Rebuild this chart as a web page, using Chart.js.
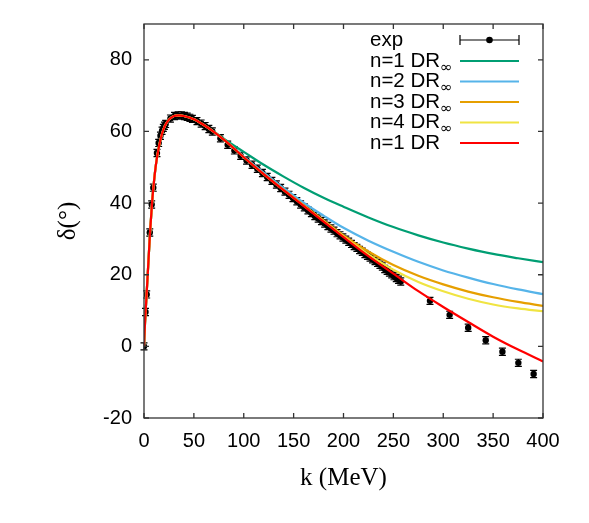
<!DOCTYPE html>
<html>
<head>
<meta charset="utf-8">
<script src="https://cdn.jsdelivr.net/npm/chart.js@4.4.1/dist/chart.umd.min.js"></script>
<style>
  html, body { margin: 0; padding: 0; background: #fff; }
</style>
</head>
<body>
<canvas id="phase" width="589" height="523"></canvas>
<script>
// experimental points (k in MeV, delta in degrees)
const expK = [0, 1.5, 2.7, 5.8, 7.7, 9.3, 13.0, 14.7, 16.5, 18.1, 19.4, 20.5, 21.7, 26.5, 30.6, 34.2, 37.5,
  40.5, 43.3, 46.0, 48.5, 53.1, 57.3, 61.3, 65.0, 68.5, 76.6, 83.9, 90.6, 96.9, 102.8, 108.3, 113.6, 118.7,
  123.5, 128.2, 132.7, 137.0, 141.3, 145.4, 149.3, 153.2, 157.0, 160.7, 164.3, 167.8, 171.2, 174.6, 177.9,
  181.1, 184.3, 187.4, 190.5, 193.5, 196.5, 199.4, 202.3, 205.2, 208.0, 210.7, 213.4, 216.1, 218.8, 221.4,
  224.0, 226.6, 229.1, 231.6, 234.1, 236.5, 238.9, 241.3, 243.7, 246.0, 248.3, 250.6, 252.9, 255.1, 257.4,
  286.7, 306.4, 325.0, 342.6, 359.3, 375.3, 390.6];
const expDelta = [0, 9.6, 14.5, 31.8, 39.6, 44.3, 54.0, 56.8, 58.8, 60.2, 61.0, 61.6, 62.1, 63.6, 64.3, 64.5, 64.5,
  64.3, 64.1, 63.8, 63.5, 62.9, 62.2, 61.5, 60.7, 60.0, 58.1, 56.3, 54.7, 53.2, 51.9, 50.7, 49.6, 48.4,
  47.3, 46.2, 45.2, 44.2, 43.2, 42.3, 41.4, 40.5, 39.6, 38.8, 38.0, 37.2, 36.4, 35.7, 35.0,
  34.3, 33.6, 32.9, 32.3, 31.6, 31.0, 30.4, 29.8, 29.2, 28.6, 28.0, 27.5, 26.9, 26.4, 25.8,
  25.3, 24.8, 24.3, 23.8, 23.3, 22.8, 22.3, 21.6, 21.1, 20.6, 20.1, 19.6, 19.1, 18.6, 18.1,
  12.7, 8.8, 5.2, 1.7, -1.5, -4.6, -7.7];
const expErr = 1.0;

// theory curves on a common k grid
const kGrid = [0, 1, 2, 3, 4, 5, 6, 8, 10, 12, 15, 18, 21, 25, 30, 35, 40, 50, 60, 70, 80, 90, 100,
  120, 140, 160, 180, 200, 225, 250, 275, 300, 325, 350, 375, 400];
const dr1 = [0, 6.5, 11.5, 16.5, 21.5, 26.5, 31.5, 39.8, 46, 50.8, 55.8, 59.3, 61.6, 63.3, 64.3, 64.5, 64.3, 63.4,
  61.8, 59.9, 57.7, 55.3, 52.8, 48.1, 43.6, 39.2, 34.8, 30.5, 25.2, 20.3, 15.4, 11.0, 6.8, 2.7, -0.9, -4.2];
const inf1 = [0, 6.5, 11.5, 16.5, 21.5, 26.5, 31.5, 39.8, 46, 50.8, 55.8, 59.3, 61.6, 63.3, 64.3, 64.5, 64.3, 63.4,
  61.8, 60.0, 58.0, 56.1, 54.3, 50.7, 47.4, 44.3, 41.5, 39.0, 36.0, 33.3, 31.0, 29.0, 27.3, 25.8, 24.6, 23.5];
const inf2 = [0, 6.5, 11.5, 16.5, 21.5, 26.5, 31.5, 39.8, 46, 50.8, 55.8, 59.3, 61.6, 63.3, 64.3, 64.5, 64.3, 63.4,
  61.8, 59.9, 57.7, 55.4, 53.0, 48.5, 44.2, 40.1, 36.5, 33.1, 29.5, 26.4, 23.6, 21.2, 19.2, 17.4, 15.9, 14.6];
const inf3 = [0, 6.5, 11.5, 16.5, 21.5, 26.5, 31.5, 39.8, 46, 50.8, 55.8, 59.3, 61.6, 63.3, 64.3, 64.5, 64.3, 63.4,
  61.8, 59.9, 57.7, 55.3, 52.8, 48.1, 43.7, 39.4, 35.2, 31.0, 26.5, 22.7, 19.7, 17.3, 15.3, 13.7, 12.4, 11.3];
const inf4 = [0, 6.5, 11.5, 16.5, 21.5, 26.5, 31.5, 39.8, 46, 50.8, 55.8, 59.3, 61.6, 63.3, 64.3, 64.5, 64.3, 63.4,
  61.8, 59.9, 57.7, 55.3, 52.8, 48.1, 43.6, 39.3, 35.0, 30.7, 25.7, 21.4, 18.0, 15.4, 13.3, 11.7, 10.6, 9.8];

const xTicks = [0, 50, 100, 150, 200, 250, 300, 350, 400];
const yTicks = [-20, 0, 20, 40, 60, 80];

const curveColors = ['#009e73', '#56b4e9', '#e69f00', '#f0e442', '#ff0000'];
const legendLabels = [['exp', ''], ['n=1 DR', '\u221e'], ['n=2 DR', '\u221e'], ['n=3 DR', '\u221e'],
  ['n=4 DR', '\u221e'], ['n=1 DR', '']];

const pts = (xs, ys) => xs.map((x, i) => ({ x: x, y: ys[i] }));

function curve(data, color, order) {
  return {
    data: pts(kGrid, data), showLine: true, borderColor: color, borderWidth: 2.2,
    pointRadius: 0, cubicInterpolationMode: 'monotone', fill: false, order: order
  };
}

// frame, inward ticks, error bars, legend, axis titles
const decor = {
  id: 'decor',
  afterDatasetDraw(chart, args) {
    if (args.index !== 0) return;
    const ctx = chart.ctx, xs = chart.scales.x, ys = chart.scales.y;
    ctx.save();
    ctx.strokeStyle = '#000';
    ctx.lineWidth = 1.2;
    expK.forEach((k, i) => {
      const px = xs.getPixelForValue(k);
      const y1 = ys.getPixelForValue(expDelta[i] - expErr), y2 = ys.getPixelForValue(expDelta[i] + expErr);
      ctx.beginPath();
      ctx.moveTo(px, y1); ctx.lineTo(px, y2);
      ctx.moveTo(px - 3.5, y1); ctx.lineTo(px + 3.5, y1);
      ctx.moveTo(px - 3.5, y2); ctx.lineTo(px + 3.5, y2);
      ctx.stroke();
    });
    ctx.restore();
  },
  afterDraw(chart) {
    const ctx = chart.ctx, a = chart.chartArea, xs = chart.scales.x, ys = chart.scales.y;
    ctx.save();
    ctx.strokeStyle = '#333';
    ctx.lineWidth = 1.3;
    ctx.strokeRect(a.left, a.top, a.right - a.left, a.bottom - a.top);
    ctx.beginPath();
    xTicks.forEach(v => {
      const p = xs.getPixelForValue(v);
      ctx.moveTo(p, a.bottom); ctx.lineTo(p, a.bottom - 5);
      ctx.moveTo(p, a.top); ctx.lineTo(p, a.top + 5);
    });
    yTicks.forEach(v => {
      const p = ys.getPixelForValue(v);
      ctx.moveTo(a.left, p); ctx.lineTo(a.left + 5, p);
      ctx.moveTo(a.right, p); ctx.lineTo(a.right - 5, p);
    });
    ctx.stroke();

    // legend
    const tx = 370, lx1 = 460, lx2 = 519, rows = [40, 61, 81.5, 102, 122.5, 143];
    ctx.fillStyle = '#000';
    ctx.textBaseline = 'middle';
    ctx.textAlign = 'left';
    legendLabels.forEach((lab, i) => {
      const y = rows[i];
      ctx.font = '20.5px "Liberation Sans", Arial, sans-serif';
      ctx.fillText(lab[0], tx, y);
      if (lab[1]) {
        const w = ctx.measureText(lab[0]).width;
        ctx.font = '15px "DejaVu Sans", sans-serif';
        ctx.fillText(lab[1], tx + w, y + 7);
      }
      ctx.beginPath();
      if (i === 0) {
        ctx.strokeStyle = '#000';
        ctx.lineWidth = 1.2;
        ctx.moveTo(lx1, y); ctx.lineTo(lx2, y);
        ctx.moveTo(lx1, y - 5); ctx.lineTo(lx1, y + 5);
        ctx.moveTo(lx2, y - 5); ctx.lineTo(lx2, y + 5);
        ctx.stroke();
        ctx.beginPath();
        ctx.arc((lx1 + lx2) / 2, y, 3.3, 0, Math.PI * 2);
        ctx.fill();
      } else {
        ctx.strokeStyle = curveColors[i - 1];
        ctx.lineWidth = 2.2;
        ctx.moveTo(lx1, y); ctx.lineTo(lx2, y);
        ctx.stroke();
      }
    });

    // axis titles
    ctx.fillStyle = '#000';
    ctx.textAlign = 'center';
    ctx.font = '25px "Liberation Serif", "Times New Roman", serif';
    ctx.fillText('k (MeV)', (a.left + a.right) / 2, 478);
    ctx.translate(68, (a.top + a.bottom) / 2);
    ctx.rotate(-Math.PI / 2);
    ctx.fillText('\u03b4(\u00b0)', 0, 0);
    ctx.restore();
  }
};

const tickFont = { family: '"Liberation Sans", Arial, sans-serif', size: 20 };

new Chart(document.getElementById('phase'), {
  type: 'scatter',
  data: {
    datasets: [
      { data: pts(expK, expDelta), pointRadius: 3.2, pointBackgroundColor: '#000', pointBorderWidth: 0,
        showLine: false, order: 5 },
      curve(inf1, curveColors[0], 4),
      curve(inf2, curveColors[1], 3),
      curve(inf3, curveColors[2], 2),
      curve(inf4, curveColors[3], 1),
      curve(dr1, curveColors[4], 0)
    ]
  },
  options: {
    responsive: false,
    animation: false,
    layout: { padding: { top: 19, right: 46, left: 0, bottom: 0 } },
    plugins: { legend: { display: false }, tooltip: { enabled: false } },
    scales: {
      x: {
        min: 0, max: 400,
        afterBuildTicks: s => { s.ticks = xTicks.map(v => ({ value: v })); },
        afterFit: s => { s.height = 105; },
        grid: { display: false, drawTicks: false },
        border: { display: false },
        ticks: { font: tickFont, color: '#000', padding: 11, maxRotation: 0 }
      },
      y: {
        min: -20, max: 90,
        afterBuildTicks: s => { s.ticks = yTicks.map(v => ({ value: v })); },
        afterFit: s => { s.width = 144; },
        grid: { display: false, drawTicks: false },
        border: { display: false },
        ticks: { font: tickFont, color: '#000', padding: 12 }
      }
    }
  },
  plugins: [decor]
});
</script>
</body>
</html>
